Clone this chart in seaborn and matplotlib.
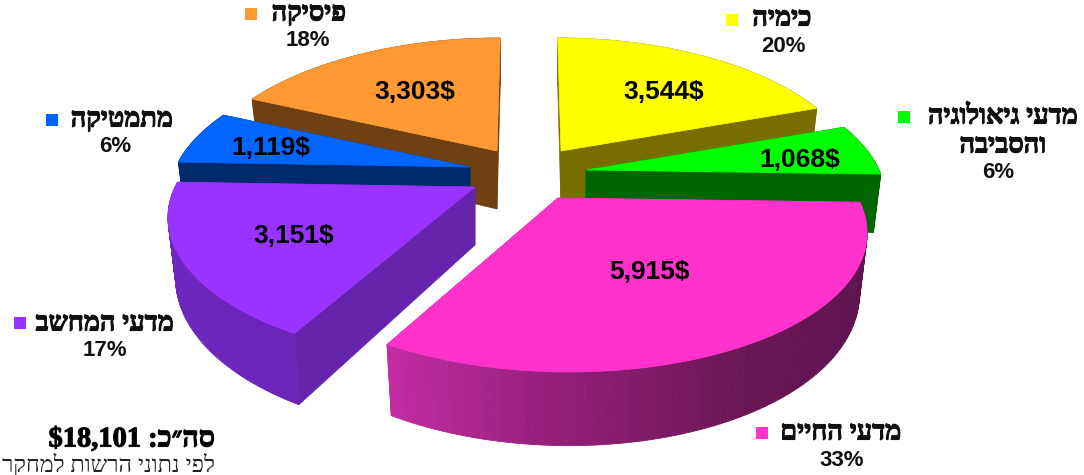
import numpy as np
import matplotlib
matplotlib.use("Agg")
import matplotlib.pyplot as plt
import matplotlib.patheffects as pe
import seaborn as sns

# ---------- data ----------
fields = ["כימיה", "מדעי גיאולוגיה והסביבה", "מדעי החיים", "מדעי המחשב", "מתמטיקה", "פיסיקה"]
amounts = [3544, 1068, 5915, 3151, 1119, 3303]
amount_labels = ["3,544$", "1,068$", "5,915$", "3,151$", "1,119$", "3,303$"]
percents = ["20%", "6%", "33%", "17%", "6%", "18%"]
total_label = "סה״כ:"
total_value = "$18,101"
source_label = "לפי נתוני הרשות למחקר"

# ---------- style ----------
top_colors = ["#FFFF00", "#00FF00", "#FF33CC", "#9933FF", "#0066FF", "#FF9933"]
radial_colors = ["#786E00", "#006600", "#8F1E75", "#6624AC", "#002A6B", "#6E4012"]
rim_stops = [["#786E00"] * 2, ["#006600"] * 2,
             ["#5C1350", "#5E1450", "#6A1655", "#8F1E75", "#C32CA3"],
             ["#6A24B8", "#7028C4"], ["#002A6B"] * 2, ["#6E4012"] * 2]
apex_px = [(561, 151), (586, 170), (558, 198), (475, 187), (470, 167), (497, 151)]
rx_px = [292, 293, 300, 300, 294, 294]
skew_px = [-4, 0, -9, 0, 0, 4]
draw_order = [5, 0, 4, 1, 3, 2]
RY, PERSP, DEPTH, SHRINK = 137, 0.2126, 58, 0.975

swatch_px = [(732, 20), (904, 117), (762, 433), (20, 323), (52, 120), (251, 14)]
name_px = [[(782, 19)], [(1003, 117), (1003, 146)], [(841, 433)], [(105, 324)], [(122, 120)], [(309, 14)]]
pct_px = [(784, 46), (998, 172), (842, 460), (105, 350), (115, 147), (308, 40)]
amount_px = [(664, 92), (800, 160), (649, 272), (294, 236), (271, 148), (415, 92)]

sns.set_theme(style="white")
SERIF = "Liberation Serif"
SANS = "Liberation Sans"

fig = plt.figure(figsize=(10.84, 4.75), dpi=100)
ax = fig.add_axes([0, 0, 1, 1])
ax.set_xlim(0, 1084)
ax.set_ylim(475, 0)
ax.axis("off")


def project(i, deg, lower=False):
    """Perspective projection of a rim point of slice i, as pixels."""
    apex = apex_px[i]
    a = np.radians(deg)
    x, y = np.cos(a), np.sin(a)
    w = 1 + PERSP * y
    dx, dy = (rx_px[i] * x + skew_px[i] * y) / w, -RY * y / w
    if lower:
        return apex[0] + dx * SHRINK, apex[1] + dy + DEPTH / w
    return apex[0] + dx, apex[1] + dy


def visual(s):
    return s[::-1]


heavy = [pe.withStroke(linewidth=0.8, foreground="#111111")]
shares = 360 * np.array(amounts) / sum(amounts)
ends = 90 - np.cumsum(shares)
starts = ends + shares

for i in draw_order:
    apex = apex_px[i]
    angles = np.linspace(starts[i], ends[i], 90)
    top = np.array([project(i, d) for d in angles])
    low = np.array([project(i, d, True) for d in angles])
    apex_low = (apex[0], apex[1] + DEPTH)
    layer = draw_order.index(i) * 3
    for j in (0, -1):
        ax.fill([apex[0], top[j][0], low[j][0], apex_low[0]],
                [apex[1], top[j][1], low[j][1], apex_low[1]],
                color=radial_colors[i], lw=0.5, zorder=2 + layer)
    pal = sns.blend_palette(rim_stops[i], len(angles) - 1)
    for k in range(len(angles) - 1):
        ax.fill([top[k][0], top[k + 1][0], low[k + 1][0], low[k][0]],
                [top[k][1], top[k + 1][1], low[k + 1][1], low[k][1]],
                color=pal[k], lw=0.6, zorder=3 + layer)
    ax.fill([apex[0], *top[:, 0]], [apex[1], *top[:, 1]], color=top_colors[i],
            lw=0.5, zorder=4 + layer)

for i in range(len(fields)):
    ax.text(*amount_px[i], amount_labels[i], ha="center", va="center", fontsize=19,
            fontweight="bold", family=SANS, color="black", zorder=50, parse_math=False)
    ax.scatter(*swatch_px[i], marker="s", s=85, color=top_colors[i], lw=0, zorder=50)
    words = fields[i].split()
    lines = [" ".join(words[:2]), words[2]] if len(words) == 3 else [fields[i]]
    for line, pos in zip(lines, name_px[i]):
        ax.text(*pos, visual(line), ha="center", va="center", fontsize=19.5,
                fontweight="bold", family=SERIF, color="#111111", zorder=50,
                path_effects=heavy)
    ax.text(*pct_px[i], percents[i], ha="center", va="center", fontsize=16,
            fontweight="bold", family=SANS, color="#111111", zorder=50, parse_math=False)

ax.text(215, 440, total_value + " " + visual(total_label), ha="right", va="center",
        fontsize=20.5, fontweight="bold", family=SERIF, color="black", parse_math=False,
        path_effects=heavy)
ax.text(215, 465, visual(source_label), ha="right", va="center",
        fontsize=16.8, family=SERIF, color="#222222")

fig.savefig("out.png", dpi=100, facecolor="white")
